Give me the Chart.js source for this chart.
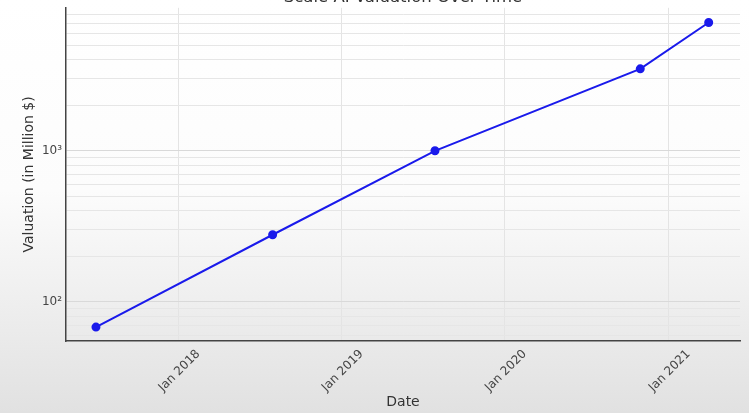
<!DOCTYPE html>
<html lang="en">
<head>
  <meta charset="UTF-8">
  <title>Scale AI Valuation Over Time</title>
  <style>
    body { margin: 0; font-family: "DejaVu Sans", sans-serif; }
    .frame { width: 749px; height: 413px; overflow: hidden; position: relative;
             background: linear-gradient(to bottom, #ffffff 0px, #fcfcfc 190px, #e1e1e1 413px); }
    .chart-box { position: absolute; left: 0; top: -16px; width: 749px; height: 429px; }
  </style>
  <script src="https://cdn.jsdelivr.net/npm/chart.js"></script>
</head>
<body>
  <div class="frame">
    <div class="chart-box"><canvas id="chart"></canvas></div>
  </div>
  <script>
    // values
    const dates = ['2017-07-01', '2018-07-31', '2019-07-29', '2020-10-30', '2021-04-01'];
    const valuations = [68, 278, 1000, 3490, 7070];
    const yearTicks = ['2018-01-01', '2019-01-01', '2020-01-01', '2021-01-01'];
    const yearLabels = ['Jan 2018', 'Jan 2019', 'Jan 2020', 'Jan 2021'];
    const xRange = ['2017-04-25', '2021-06-10'];
    const yRange = [55, 8850];

    const sup = { 2: '\u00B2', 3: '\u00B3' };
    const points = dates.map((d, i) => ({ x: Date.parse(d), y: valuations[i] }));
    const tickTimes = yearTicks.map(d => Date.parse(d));
    const isPow10 = v => { const p = Math.log10(v); return Math.abs(p - Math.round(p)) < 1e-9; };

    new Chart(document.getElementById('chart'), {
      type: 'line',
      data: {
        datasets: [{
          data: points,
          borderColor: '#1a1aeb',
          backgroundColor: '#1a1aeb',
          borderWidth: 2,
          pointRadius: 3.5,
          pointHoverRadius: 3.5,
          fill: false,
          tension: 0
        }]
      },
      options: {
        responsive: true,
        maintainAspectRatio: false,
        animation: false,
        layout: { padding: { left: 0, right: 9, top: 0, bottom: 0 } },
        plugins: {
          legend: { display: false },
          tooltip: { enabled: false },
          title: {
            display: true,
            fullSize: false,
            text: 'Scale AI Valuation Over Time',
            color: '#333',
            font: { family: 'DejaVu Sans', size: 16.5, weight: 'normal' },
            padding: { top: 4, bottom: 0 }
          }
        },
        scales: {
          x: {
            type: 'linear',
            min: Date.parse(xRange[0]),
            max: Date.parse(xRange[1]),
            afterBuildTicks: s => { s.ticks = tickTimes.map(v => ({ value: v })); },
            afterFit: s => { s.height = 72; },
            ticks: {
              autoSkip: false,
              minRotation: 45,
              maxRotation: 45,
              padding: 6,
              labelOffset: 20,
              color: '#444',
              font: { family: 'DejaVu Sans', size: 12 },
              callback: v => yearLabels[tickTimes.indexOf(v)]
            },
            grid: { color: '#e4e4e4', drawTicks: false },
            border: { color: '#444', width: 1.5 },
            title: {
              display: true,
              text: 'Date',
              color: '#333',
              font: { family: 'DejaVu Sans', size: 14 },
              padding: 2
            }
          },
          y: {
            type: 'logarithmic',
            min: yRange[0],
            max: yRange[1],
            afterBuildTicks: s => {
              const t = [];
              for (let p = 1; p <= 3; p++) {
                for (let m = 1; m <= 9; m++) {
                  const v = m * Math.pow(10, p);
                  if (v >= s.min && v <= s.max) t.push({ value: v });
                }
              }
              s.ticks = t;
            },
            afterFit: s => { s.width = 66; },
            ticks: {
              autoSkip: false,
              padding: 4,
              color: '#444',
              font: { family: 'DejaVu Sans', size: 12 },
              callback: v => isPow10(v) ? '10' + sup[Math.round(Math.log10(v))] : ''
            },
            grid: {
              drawTicks: false,
              color: c => isPow10(c.tick.value) ? '#d9d9d9' : '#e6e6e6'
            },
            border: { color: '#444', width: 1.5 },
            title: {
              display: true,
              text: 'Valuation (in Million $)',
              color: '#333',
              font: { family: 'DejaVu Sans', size: 14 },
              padding: 21
            }
          }
        }
      }
    });
  </script>
</body>
</html>
